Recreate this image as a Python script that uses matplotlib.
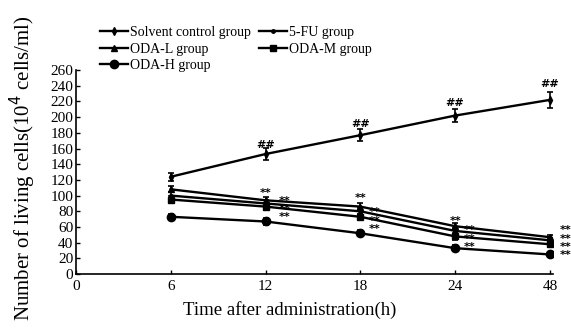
import matplotlib
matplotlib.use("Agg")
import matplotlib.pyplot as plt
from matplotlib.lines import Line2D

plt.rcParams['font.family'] = ['Liberation Serif', 'DejaVu Serif']

time_labels = ["0", "6", "12", "18", "24", "48"]
yticks = list(range(0, 261, 20))

groups = ["Solvent control group", "5-FU group", "ODA-L group", "ODA-M group", "ODA-H group"]
markers = ["d", ".", "^", "s", "o"]
msizes = [4, 5, 5, 5, 6]

solvent = [124, 153, 177, 202, 222]
fu5 = [100, 90, 80, 55, 43]
oda_l = [108, 94, 86, 61, 47]
oda_m = [95, 86, 73, 48, 38]
oda_h = [73, 67, 52, 33, 25]
series = [solvent, fu5, oda_l, oda_m, oda_h]

solvent_err = [5, 8, 8, 8, 10]
small_err = [4, 4, 4, 4, 3]
errs = [solvent_err, small_err, small_err, small_err, small_err]

# significance marks: (category index, offset, center value of first mark, count, text)
marks_hash = [(2, 0.0, 166, 1, "##"), (3, 0.0, 193, 1, "##"), (4, 0.0, 220, 1, "##"), (5, 0.0, 244, 1, "##")]
marks_star = [(2, 0.0, 105, 1, "**"), (2, 0.2, 95, 3, "**"),
              (3, 0.0, 98, 1, "**"), (3, 0.15, 80, 3, "**"),
              (4, 0.0, 69, 1, "**"), (4, 0.15, 57, 3, "**"),
              (5, 0.17, 57, 4, "**")]

fig = plt.figure(figsize=(5.71, 3.29), dpi=100)
ax = fig.add_axes([0.133, 0.167, 0.835, 0.620])

xpos = list(range(1, 6))
handles = []
for name, vals, m, ms, e in zip(groups, series, markers, msizes, errs):
    ax.errorbar(xpos, vals, yerr=e, color="black", lw=1.7, marker=m, ms=ms,
                capsize=2.5, elinewidth=1.2, capthick=1.2)
    handles.append(Line2D([], [], color="black", lw=1.7, marker=m, ms=ms))

for (i, off, v, n, t) in marks_hash + marks_star:
    ax.text(i + off, v + 5, "\n".join([t] * n), ha="center", va="top", fontsize=8,
            fontweight="bold", family=["DejaVu Sans"], linespacing=0.78, clip_on=False)

ax.set_xlim(0, 5.03)
ax.set_ylim(0, 260)
ax.set_xticks(range(6))
ax.set_xticklabels(time_labels, fontsize=11)
ax.set_yticks(yticks)
ax.set_yticklabels([str(y) for y in yticks], fontsize=11)
ax.tick_params(direction="in", length=3, width=1, pad=4)
ax.tick_params(axis="y", pad=2)
for s in ["top", "right"]:
    ax.spines[s].set_visible(False)
for s in ["left", "bottom"]:
    ax.spines[s].set_linewidth(1.2)

order = [0, 2, 4, 1, 3]
leg = fig.legend([handles[i] for i in order], [groups[i] for i in order], ncol=2,
                 loc="upper left", bbox_to_anchor=(0.158, 0.95), frameon=False,
                 fontsize=10, handlelength=2.0, handletextpad=0.15, columnspacing=0.6,
                 labelspacing=0.25, borderpad=0.2)

fig.text(0.04, 0.49, "Number of living cells(10$^4$ cells/ml)", rotation=90,
         ha="center", va="center", fontsize=15)
fig.text(0.508, 0.058, "Time after administration(h)", ha="center", va="center", fontsize=13.5)

fig.savefig("out.png", dpi=100)
